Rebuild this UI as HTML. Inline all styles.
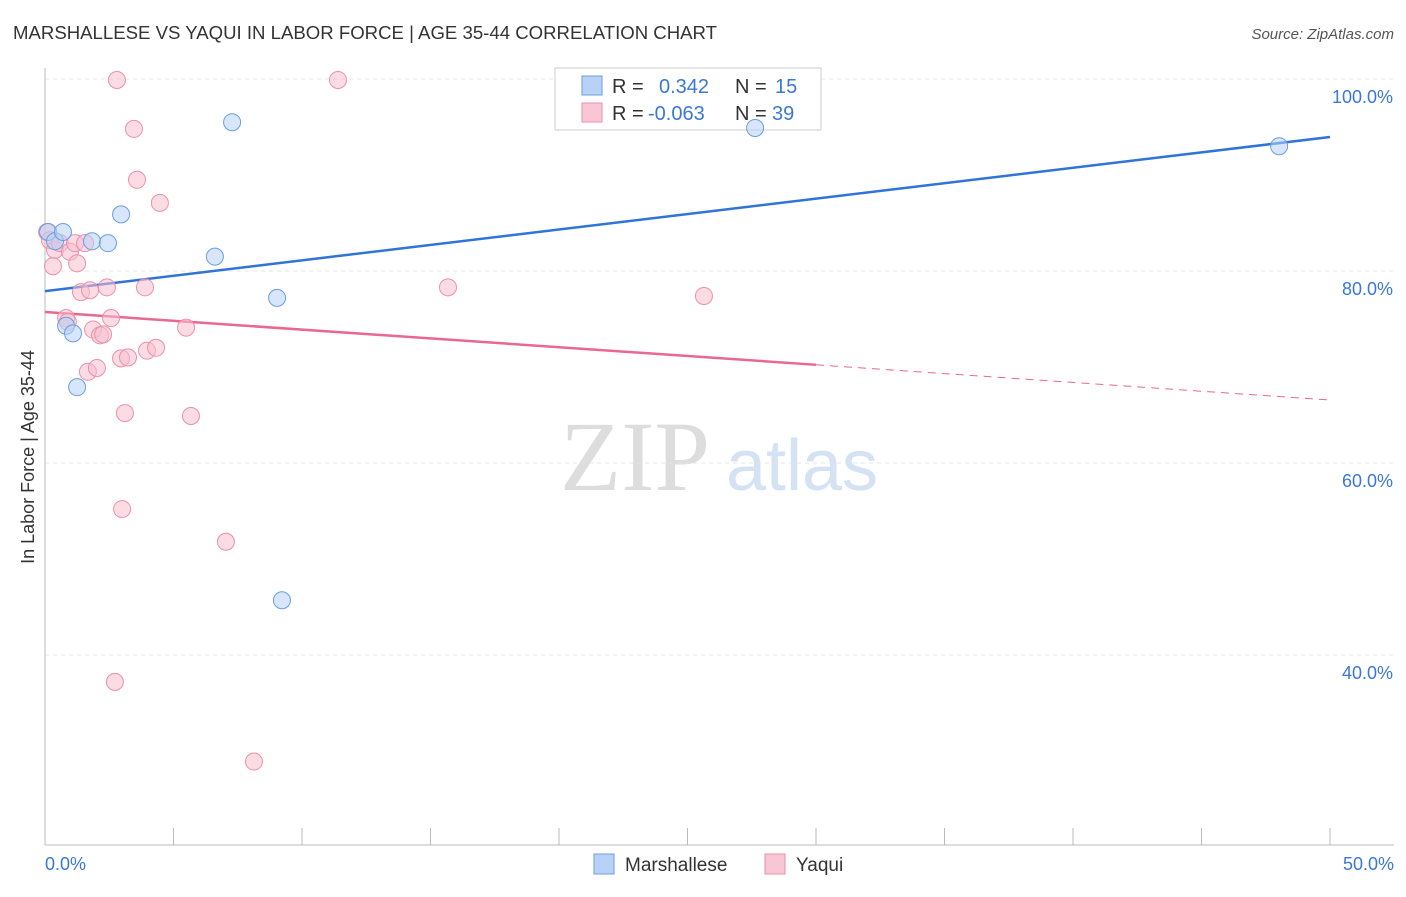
<!DOCTYPE html>
<html><head><meta charset="utf-8"><style>
body{margin:0;background:#fff;font-family:"Liberation Sans",sans-serif;}
</style></head><body>
<svg id="chart" width="1406" height="892" viewBox="0 0 1406 892" xmlns="http://www.w3.org/2000/svg" font-family="Liberation Sans, sans-serif">
<text x="13" y="39" font-size="18" fill="#333" textLength="704" lengthAdjust="spacingAndGlyphs">MARSHALLESE VS YAQUI IN LABOR FORCE | AGE 35-44 CORRELATION CHART</text>
<text x="1394" y="39" font-size="15" fill="#555" text-anchor="end" font-style="italic">Source: ZipAtlas.com</text>
<text transform="translate(34,457) rotate(-90)" font-size="18" fill="#333" text-anchor="middle">In Labor Force | Age 35-44</text>
<g><text x="635" y="490" font-size="100" fill="#ddd" style="font-family:'Liberation Serif',serif" text-anchor="middle">ZIP</text><text x="802" y="490" font-size="72" fill="#d4e2f4" text-anchor="middle">atlas</text></g>
<g id="grid"></g><g id="axes"></g><g id="lines"></g>
<g>
<rect x="555" y="68" width="266" height="62" fill="#fff" stroke="#ccc"/>
<rect x="582" y="76" width="20" height="19" fill="#b7d2f5" stroke="#6a9fe0"/>
<text x="612" y="93" font-size="20" fill="#333">R = </text><text x="659" y="93" font-size="20" fill="#3a78d4">0.342</text>
<text x="735" y="93" font-size="20" fill="#333">N = </text><text x="775" y="93" font-size="20" fill="#3a78d4">15</text>
<rect x="582" y="103" width="20" height="19" fill="#f8c6d4" stroke="#ec8fab"/>
<text x="612" y="120" font-size="20" fill="#333">R = </text><text x="648" y="120" font-size="20" fill="#3a78d4">-0.063</text>
<text x="735" y="120" font-size="20" fill="#333">N = </text><text x="772" y="120" font-size="20" fill="#3a78d4">39</text>
</g>
<g id="points"></g>
<g>
<rect x="594" y="854" width="20" height="20" fill="#b7d2f5" stroke="#6a9fe0"/>
<text x="625" y="871" font-size="19" fill="#333">Marshallese</text>
<rect x="765" y="854" width="20" height="20" fill="#f8c6d4" stroke="#ec8fab"/>
<text x="796" y="871" font-size="19" fill="#333">Yaqui</text>
</g>
</svg>
<script>
const yTicks=[100,80,60,40];
const yTickLabels=["100.0%","80.0%","60.0%","40.0%"];
const xTickLabels=["0.0%","50.0%"];
const blueX=[0.12,0.39,0.70,1.83,2.45,2.96,0.82,1.09,1.25,6.61,7.28,9.03,9.22,27.63,48.02];
const blueY=[84.06,83.1,84.06,83.1,82.9,85.9,74.3,73.5,67.9,81.5,95.5,77.2,45.7,94.9,93.0];
const pinkX=[0.08,0.19,0.39,0.58,0.97,1.17,1.25,0.31,1.56,2.80,3.46,3.58,4.47,11.40,1.40,1.75,2.41,3.89,0.82,0.89,1.87,2.14,2.26,2.57,2.96,3.23,3.97,4.32,5.49,1.67,2.02,3.11,5.68,3.00,7.04,2.72,8.13,15.68,25.64];
const pinkY=[84.06,83.2,82.2,82.9,82.0,82.9,80.8,80.5,82.9,99.9,94.8,89.5,87.1,99.9,77.8,78.0,78.3,78.3,75.1,74.7,73.9,73.3,73.4,75.1,70.9,71.0,71.7,72.0,74.1,69.5,69.9,65.2,64.9,55.2,51.8,37.2,28.9,78.3,77.4];
const blueTrend=[77.9,93.96];
const pinkTrend=[75.73,66.56];
const pinkSolidEnd=30;
const NS="http://www.w3.org/2000/svg";
const xs=v=>45+v*25.7, ys=v=>79+(100-v)*9.6;
function mk(tag,attrs,parent){const e=document.createElementNS(NS,tag);for(const k in attrs)e.setAttribute(k,attrs[k]);document.getElementById(parent).appendChild(e);return e;}
yTicks.forEach((t,i)=>{
 const l=mk('line',{x1:45,x2:1394,y1:ys(t),y2:ys(t),stroke:'#e4e4e4','stroke-dasharray':'4,4'},'grid');
 
 
 const tx=mk('text',{x:1393,y:ys(t)+24,'font-size':18,fill:'#3a78d4','text-anchor':'end'},'grid');
 tx.textContent=yTickLabels[i];
 
 
});
let a=mk('line',{x1:45,x2:45,y1:68,y2:845,stroke:'#bbb'},'axes');


a=mk('line',{x1:45,x2:1394,y1:845,y2:845,stroke:'#bbb'},'axes');


for(let i=0;i<=10;i++){const t=mk('line',{x1:xs(i*5),x2:xs(i*5),y1:828,y2:845,stroke:'#bbb'},'axes');
 
 }
[[0,'start',45],[50,'end',1394]].forEach((p,i)=>{const t=mk('text',{x:p[2],y:870,'font-size':18,fill:'#3a78d4','text-anchor':p[1]},'axes');t.textContent=xTickLabels[i];
 
 });
function pts(X,Y,fill,stroke,name){X.forEach((x,i)=>{const c=mk('circle',{cx:xs(x),cy:ys(Y[i]),r:8.5,fill:fill,'fill-opacity':0.55,stroke:stroke,'stroke-width':1},'points');
 
 });}
pts(pinkX,pinkY,'#f8c0d0','#ec8fab','yaqui-point');
pts(blueX,blueY,'#b7d2f5','#6a9fe0','marshallese-point');
let l=mk('line',{x1:xs(0),y1:ys(blueTrend[0]),x2:xs(50),y2:ys(blueTrend[1]),stroke:'#2f74d6','stroke-width':2.5},'lines');


const pv=x=>pinkTrend[0]+(pinkTrend[1]-pinkTrend[0])*x/50;
l=mk('line',{x1:xs(0),y1:ys(pv(0)),x2:xs(pinkSolidEnd),y2:ys(pv(pinkSolidEnd)),stroke:'#e8688f','stroke-width':2.5},'lines');


l=mk('line',{x1:xs(pinkSolidEnd),y1:ys(pv(pinkSolidEnd)),x2:xs(50),y2:ys(pv(50)),stroke:'#e8688f','stroke-width':1,'stroke-dasharray':'8,6'},'lines');


</script>
</body></html>
